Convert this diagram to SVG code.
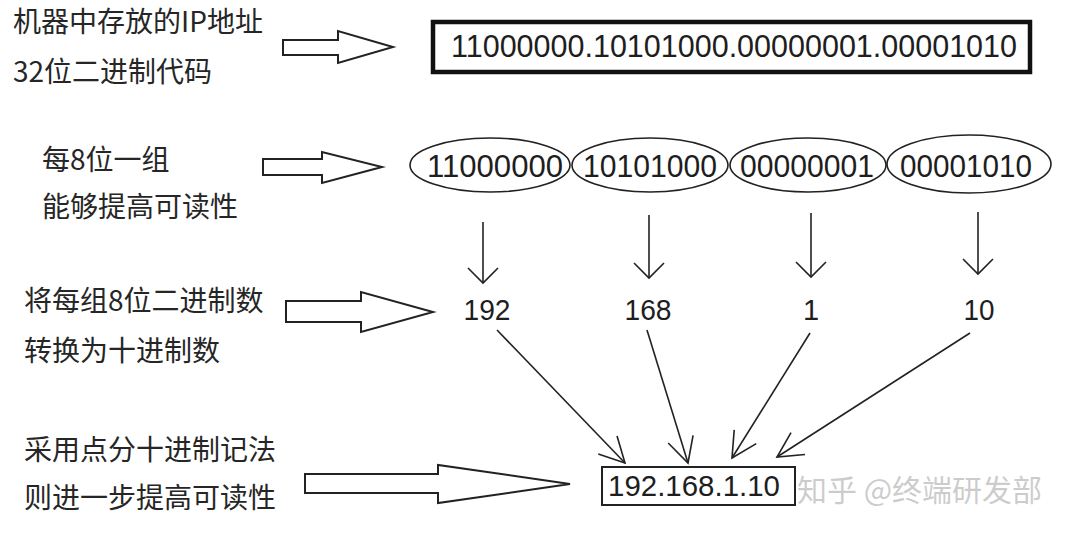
<svg xmlns="http://www.w3.org/2000/svg" width="1067" height="546" viewBox="0 0 1067 546">
  <style>
    .lbl { font-family: "Noto Sans CJK SC", "Noto Sans", sans-serif; font-size: 28px; fill: #262626; }
    .num { font-family: "Liberation Sans", Arial, sans-serif; fill: #1e1e1e; text-anchor: middle; }
    .blk { fill: #ffffff; stroke: #222; stroke-width: 2; stroke-linejoin: miter; }
    .ln { fill: none; stroke: #222; stroke-width: 1.6; }
    .ell { fill: #ffffff; stroke: #222; stroke-width: 1.6; }
    .wm { font-family: "Noto Sans CJK SC", "Noto Sans", sans-serif; font-size: 30px; fill: #9a9a9a; fill-opacity: 0.5; }
  </style>
  <defs>
    <marker id="vdown" markerUnits="userSpaceOnUse" markerWidth="40" markerHeight="40" refX="0" refY="0" viewBox="-20 -20 40 40" orient="auto" overflow="visible">
      <path d="M-15,-15 L0,0 L-15,15" fill="none" stroke="#222" stroke-width="1.6"/>
    </marker>
    <marker id="vconv" markerUnits="userSpaceOnUse" markerWidth="60" markerHeight="60" refX="0" refY="0" viewBox="-30 -30 60 60" orient="auto" overflow="visible">
      <path d="M-25,-13 L0,0 L-25,13" fill="none" stroke="#222" stroke-width="1.6"/>
    </marker>
  </defs>
  <rect x="0" y="0" width="1067" height="546" fill="#ffffff"/>

  <!-- Row 1 -->
  <g id="label-row1">
    <text class="lbl" x="13" y="32">机器中存放的IP地址</text>
    <text class="lbl" x="13" y="82">32位二进制代码</text>
  </g>
  <g id="binary-box">
    <rect x="433" y="22" width="597" height="50" fill="#ffffff" stroke="#111" stroke-width="4.5"/>
    <text class="num" x="734" y="57" font-size="32" textLength="566" lengthAdjust="spacingAndGlyphs">11000000.10101000.00000001.00001010</text>
  </g>

  <!-- Row 2 -->
  <g id="label-row2">
    <text class="lbl" x="42" y="170">每8位一组</text>
    <text class="lbl" x="42" y="217">能够提高可读性</text>
  </g>
  <g id="octet1">
    <ellipse class="ell" cx="490" cy="165" rx="80" ry="27"/>
    <text class="num" x="495" y="177" font-size="32" textLength="136" lengthAdjust="spacingAndGlyphs">11000000</text>
  </g>
  <g id="octet2">
    <ellipse class="ell" cx="650" cy="165" rx="78" ry="27"/>
    <text class="num" x="650" y="177" font-size="32" textLength="134" lengthAdjust="spacingAndGlyphs">10101000</text>
  </g>
  <g id="octet3">
    <ellipse class="ell" cx="808" cy="165" rx="78" ry="27"/>
    <text class="num" x="807" y="177" font-size="32" textLength="134" lengthAdjust="spacingAndGlyphs">00000001</text>
  </g>
  <g id="octet4">
    <ellipse class="ell" cx="969" cy="164" rx="82" ry="29"/>
    <text class="num" x="966" y="177" font-size="32" textLength="132" lengthAdjust="spacingAndGlyphs">00001010</text>
  </g>

  <!-- Row 3 -->
  <g id="label-row3">
    <text class="lbl" x="24" y="311">将每组8位二进制数</text>
    <text class="lbl" x="24" y="361">转换为十进制数</text>
  </g>
  <g id="dec1"><text class="num" x="487" y="320" font-size="29" textLength="47" lengthAdjust="spacingAndGlyphs">192</text></g>
  <g id="dec2"><text class="num" x="648" y="320" font-size="29" textLength="47" lengthAdjust="spacingAndGlyphs">168</text></g>
  <g id="dec3"><text class="num" x="811" y="320" font-size="29">1</text></g>
  <g id="dec4"><text class="num" x="979" y="320" font-size="29" textLength="31" lengthAdjust="spacingAndGlyphs">10</text></g>

  <!-- Row 4 -->
  <g id="label-row4">
    <text class="lbl" x="24" y="460">采用点分十进制记法</text>
    <text class="lbl" x="24" y="508">则进一步提高可读性</text>
  </g>
  <g id="dotted-box">
    <rect x="602" y="467" width="193" height="38" fill="#ffffff" stroke="#222" stroke-width="2"/>
    <text class="num" x="694" y="496" font-size="30" textLength="172" lengthAdjust="spacingAndGlyphs">192.168.1.10</text>
  </g>

  <!-- Watermark -->
  <text class="wm" x="797" y="501">知乎 @终端研发部</text>

  <!-- Connectors -->
  <g id="connectors">
    <path class="blk" d="M283,40 H338 V31 L393,47 L338,63 V55 H283 Z"/>
    <path class="blk" d="M263,159 H322 V152 L382,167 L322,183 V175 H263 Z"/>
    <path class="blk" d="M286,301 H361 V292 L433,312 L361,332 V322 H286 Z"/>
    <path class="blk" d="M305,474 H438 V465 L570,484 L438,503 V493 H305 Z"/>

    <line class="ln" x1="483" y1="222" x2="483" y2="283" marker-end="url(#vdown)"/>
    <line class="ln" x1="649" y1="215" x2="649" y2="278" marker-end="url(#vdown)"/>
    <line class="ln" x1="811" y1="213" x2="811" y2="277" marker-end="url(#vdown)"/>
    <line class="ln" x1="978" y1="212" x2="978" y2="274" marker-end="url(#vdown)"/>

    <line class="ln" x1="497" y1="330" x2="625" y2="463" marker-end="url(#vconv)"/>
    <line class="ln" x1="647" y1="330" x2="688" y2="463" marker-end="url(#vconv)"/>
    <line class="ln" x1="810" y1="333" x2="732" y2="458" marker-end="url(#vconv)"/>
    <line class="ln" x1="970" y1="333" x2="777" y2="457" marker-end="url(#vconv)"/>
  </g>
</svg>
